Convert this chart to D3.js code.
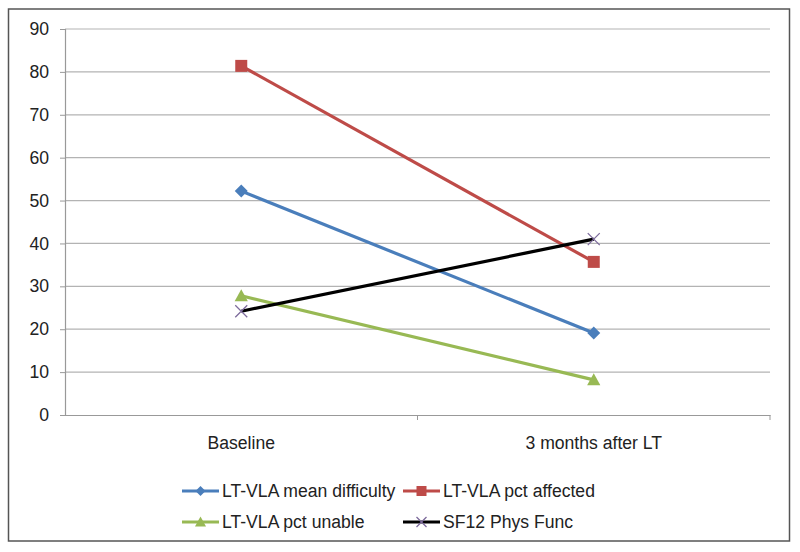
<!DOCTYPE html>
<html><head><meta charset="utf-8">
<script src="https://cdn.jsdelivr.net/npm/d3@7"></script>
<style>body{margin:0;background:#fff;} svg{display:block;font-family:"Liberation Sans",Arial,sans-serif;}</style>
</head><body>
<svg id="c" width="800" height="552"></svg>
<script>
const categories = ["Baseline", "3 months after LT"];
const meanDifficulty = [52.2, 19.1];
const pctAffected = [81.4, 35.7];
const pctUnable = [27.8, 8.2];
const sf12PhysFunc = [24.2, 41.0];
const yTicks = [0,10,20,30,40,50,60,70,80,90];

const series = [
  {name:"LT-VLA mean difficulty", values: meanDifficulty, color:"#4a7ebb", marker:"diamond"},
  {name:"LT-VLA pct affected", values: pctAffected, color:"#be4b48", marker:"square"},
  {name:"LT-VLA pct unable", values: pctUnable, color:"#98b954", marker:"triangle"},
  {name:"SF12 Phys Func", values: sf12PhysFunc, color:"#000000", marker:"x", markerColor:"#7d6b9c"}
];

const FS = 17.6;
const svg = d3.select("#c");
svg.append("rect").attr("x",8.5).attr("y",9).attr("width",781).attr("height",532)
  .attr("fill","#fff").attr("stroke","#555").attr("stroke-width",1.5);

const pLeft=65, pRight=770, pTop=29, pBottom=415;
const x = d3.scaleBand().domain(categories).range([pLeft,pRight]);
const y = d3.scaleLinear().domain([0,90]).range([pBottom,pTop]);

// gridlines
svg.append("g").selectAll("line").data(yTicks.filter(d=>d>0)).join("line")
  .attr("x1",pLeft).attr("x2",pRight).attr("y1",d=>y(d)).attr("y2",d=>y(d))
  .attr("stroke","#b3b3b3").attr("stroke-width",1.2);

// y axis
const ya = svg.append("g").attr("transform",`translate(${pLeft},0)`)
  .call(d3.axisLeft(y).tickValues(yTicks).tickSize(5).tickPadding(11));
ya.select(".domain").attr("stroke","#999").attr("stroke-width",1.2);
ya.selectAll(".tick line").attr("stroke","#999");
ya.selectAll("text").attr("fill","#222").attr("font-size",FS).attr("font-family","Liberation Sans, Arial, sans-serif");

// x axis
const xa = svg.append("g").attr("transform",`translate(0,${pBottom})`)
  .call(d3.axisBottom(x).tickSize(0).tickPadding(22));
xa.select(".domain").attr("stroke","#999").attr("stroke-width",1.2);
xa.selectAll("text").attr("fill","#222").attr("font-size",FS).attr("font-family","Liberation Sans, Arial, sans-serif");
// category boundary ticks
const bounds = [x(categories[1]), pRight];
svg.append("g").selectAll("line").data(bounds).join("line")
  .attr("x1",d=>d).attr("x2",d=>d).attr("y1",pBottom).attr("y2",pBottom+5)
  .attr("stroke","#999");

function drawMarker(g, type, cx, cy, color, s){
  if(type==="diamond"){
    g.append("path").attr("d",`M${cx},${cy-s}L${cx+s},${cy}L${cx},${cy+s}L${cx-s},${cy}Z`).attr("fill",color);
  } else if(type==="square"){
    g.append("rect").attr("x",cx-s).attr("y",cy-s).attr("width",2*s).attr("height",2*s).attr("fill",color);
  } else if(type==="triangle"){
    g.append("path").attr("d",`M${cx},${cy-s*1.1}L${cx+s*1.1},${cy+s*0.9}L${cx-s*1.1},${cy+s*0.9}Z`).attr("fill",color);
  } else if(type==="x"){
    g.append("path").attr("d",`M${cx-s},${cy-s}L${cx+s},${cy+s}M${cx-s},${cy+s}L${cx+s},${cy-s}`)
      .attr("stroke",color).attr("stroke-width",1.3).attr("fill","none");
  }
}

const line = d3.line().x((d,i)=>x(categories[i])+x.bandwidth()/2).y(d=>y(d));
series.forEach(s=>{
  const g = svg.append("g");
  g.append("path").attr("d",line(s.values)).attr("fill","none").attr("stroke",s.color).attr("stroke-width",3.2);
  s.values.forEach((v,i)=>drawMarker(g,s.marker,x(categories[i])+x.bandwidth()/2,y(v),s.markerColor||s.color,
    s.marker==="x"?6:(s.marker==="diamond"?6.5:6)));
});

// legend
const legPos = [[182,491],[403,491],[182,522],[403,522]];
series.forEach((s,i)=>{
  const [lx,ly] = legPos[i];
  const g = svg.append("g");
  g.append("line").attr("x1",lx).attr("x2",lx+37).attr("y1",ly).attr("y2",ly).attr("stroke",s.color).attr("stroke-width",3);
  drawMarker(g,s.marker,lx+18.5,ly,s.markerColor||s.color,5);
  g.append("text").attr("x",lx+40).attr("y",ly).attr("dy","0.35em").attr("font-size",FS).attr("fill","#222").text(s.name);
});
</script>
</body></html>
